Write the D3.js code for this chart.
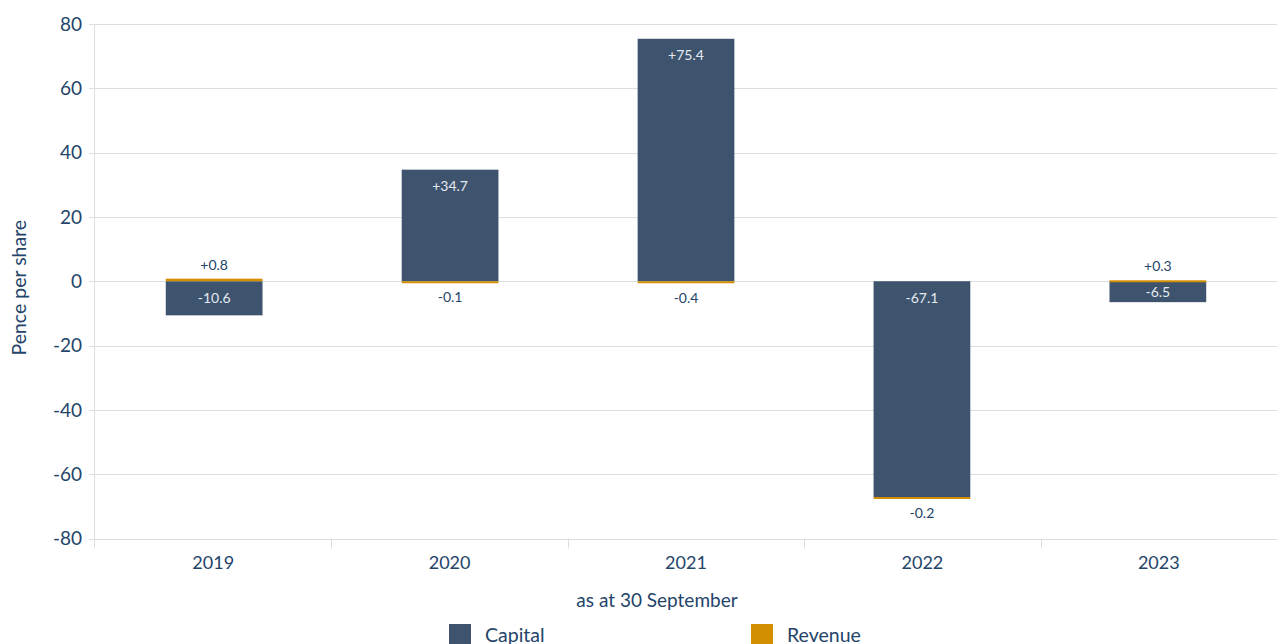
<!DOCTYPE html>
<html>
<head>
<meta charset="utf-8">
<script src="https://cdn.jsdelivr.net/npm/d3@7"></script>
<style>
  body { margin: 0; background: #fff; }
  svg { font-family: Lato, "Open Sans", sans-serif; }
</style>
</head>
<body>
<div id="chart"></div>
<script>
// chart values
const years = ["2019", "2020", "2021", "2022", "2023"];
const capital = [-10.6, 34.7, 75.4, -67.1, -6.5];
const revenue = [0.8, -0.1, -0.4, -0.2, 0.3];
const yTicks = [80, 60, 40, 20, 0, -20, -40, -60, -80];

const width = 1277;
const height = 644;
const margin = { top: 24, right: 0, bottom: 105, left: 95 };

const textColor = "#24446a";
const capColor = "#3e546e";
const revColor = "#d38f00";
const gridColor = "#dadde2";

const svg = d3.select("#chart")
  .append("svg")
  .attr("width", width)
  .attr("height", height);

const xScale = d3.scaleBand()
  .domain(years)
  .range([margin.left, width - margin.right])
  .paddingInner(0.59)
  .paddingOuter(0.3);

const xBand = d3.scaleBand()
  .domain(years)
  .range([margin.left, width - margin.right]);

const yScale = d3.scaleLinear()
  .domain([-80, 80])
  .range([height - margin.bottom - 0.5, margin.top]);

// grid lines
svg.append("g")
  .selectAll("line")
  .data(yTicks)
  .join("line")
  .attr("x1", margin.left - 6)
  .attr("x2", width)
  .attr("y1", d => Math.round(yScale(d)) + 0.5)
  .attr("y2", d => Math.round(yScale(d)) + 0.5)
  .attr("stroke", gridColor)
  .attr("stroke-width", 1);

// y axis line
svg.append("line")
  .attr("x1", margin.left - 0.5)
  .attr("x2", margin.left - 0.5)
  .attr("y1", margin.top)
  .attr("y2", yScale(-80) + 10)
  .attr("stroke", gridColor);

// category separators
svg.append("g")
  .selectAll("line")
  .data(years.slice(1))
  .join("line")
  .attr("x1", d => Math.round(xBand(d)) + 0.5)
  .attr("x2", d => Math.round(xBand(d)) + 0.5)
  .attr("y1", yScale(-80))
  .attr("y2", yScale(-80) + 10)
  .attr("stroke", gridColor);

// y tick labels
svg.append("g")
  .selectAll("text")
  .data(yTicks)
  .join("text")
  .attr("x", margin.left - 13)
  .attr("y", d => yScale(d))
  .attr("dy", "0.36em")
  .attr("text-anchor", "end")
  .attr("font-size", 19)
  .attr("fill", textColor)
  .text(d => d);

// x tick labels
svg.append("g")
  .selectAll("text")
  .data(years)
  .join("text")
  .attr("x", d => xBand(d) + xBand.bandwidth() / 2)
  .attr("y", yScale(-80) + 30)
  .attr("text-anchor", "middle")
  .attr("font-size", 18)
  .attr("fill", textColor)
  .text(d => d);

// stacked data
const stacked = years.map((y, i) => {
  const c = capital[i], r = revenue[i];
  const c0 = 0, c1 = c;
  // revenue stacks on the same side as capital if same sign, otherwise from zero
  const r0 = Math.sign(r) === Math.sign(c) ? c : 0;
  const r1 = r0 + r;
  return { year: y, c, r, c0, c1, r0, r1 };
});

const bars = svg.append("g");

bars.selectAll(".cap")
  .data(stacked)
  .join("rect")
  .attr("class", "cap")
  .attr("x", d => xScale(d.year))
  .attr("width", xScale.bandwidth())
  .attr("y", d => yScale(Math.max(d.c0, d.c1)))
  .attr("height", d => Math.abs(yScale(d.c0) - yScale(d.c1)))
  .attr("fill", capColor);

bars.selectAll(".rev")
  .data(stacked)
  .join("rect")
  .attr("class", "rev")
  .attr("x", d => xScale(d.year))
  .attr("width", xScale.bandwidth())
  .attr("y", d => yScale(Math.max(d.r0, d.r1)))
  .attr("height", d => Math.max(2, Math.abs(yScale(d.r0) - yScale(d.r1))))
  .attr("fill", revColor);

const fmt = v => (v > 0 ? "+" : "") + v.toFixed(1);

// capital labels, inside near the visual top (centred when the bar is short)
bars.selectAll(".capLabel")
  .data(stacked)
  .join("text")
  .attr("class", "capLabel")
  .attr("x", d => xScale(d.year) + xScale.bandwidth() / 2)
  .attr("y", d => {
    const top = yScale(Math.max(d.c0, d.c1));
    const mid = (yScale(d.c0) + yScale(d.c1)) / 2;
    return Math.min(top + 16.5, mid) + 5;
  })
  .attr("text-anchor", "middle")
  .attr("font-size", 14)
  .attr("fill", "#e4e9f0")
  .text(d => fmt(d.c));

// revenue labels, outside the bar
bars.selectAll(".revLabel")
  .data(stacked)
  .join("text")
  .attr("class", "revLabel")
  .attr("x", d => xScale(d.year) + xScale.bandwidth() / 2)
  .attr("y", d => d.r > 0 ? yScale(d.r1) - 9 : yScale(d.r1) + 20)
  .attr("text-anchor", "middle")
  .attr("font-size", 14)
  .attr("fill", textColor)
  .text(d => fmt(d.r));

// y axis title
svg.append("text")
  .attr("transform", `translate(26,${yScale(-2)}) rotate(-90)`)
  .attr("text-anchor", "middle")
  .attr("font-size", 19.5)
  .attr("fill", textColor)
  .text("Pence per share");

// x axis title
svg.append("text")
  .attr("x", 657)
  .attr("y", 607)
  .attr("text-anchor", "middle")
  .attr("font-size", 19)
  .attr("fill", textColor)
  .text("as at 30 September");

// legend (cut by the bottom edge, as in the source)
const legend = [
  { name: "Capital", color: capColor, x: 449 },
  { name: "Revenue", color: revColor, x: 751 }
];
const lg = svg.append("g")
  .selectAll("g")
  .data(legend)
  .join("g")
  .attr("transform", d => `translate(${d.x},624)`);
lg.append("rect")
  .attr("width", 22)
  .attr("height", 22)
  .attr("fill", d => d.color);
lg.append("text")
  .attr("x", 36)
  .attr("y", 18)
  .attr("font-size", 19.5)
  .attr("fill", textColor)
  .text(d => d.name);
</script>
</body>
</html>
